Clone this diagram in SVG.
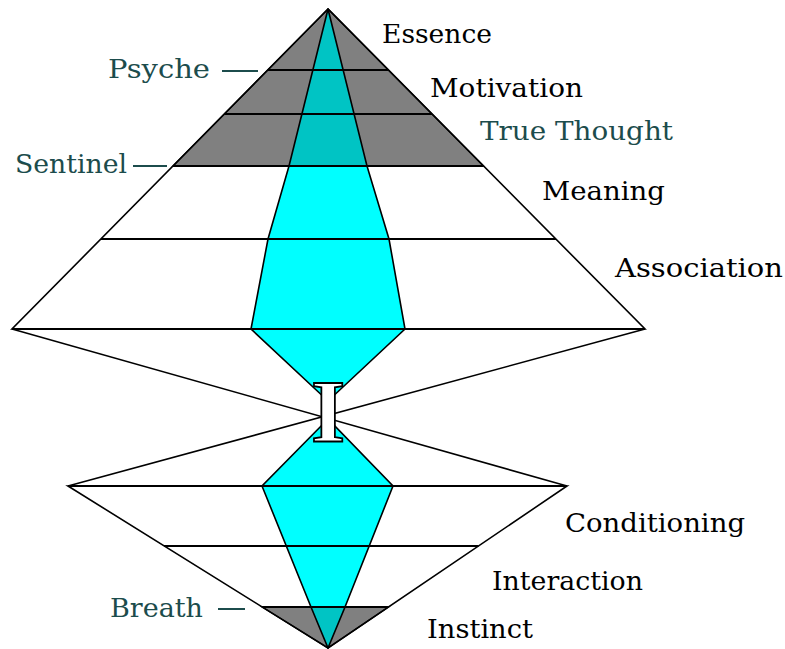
<svg xmlns="http://www.w3.org/2000/svg" width="785" height="649" viewBox="0 0 785 649">
<style>
.ln{stroke:#000;stroke-width:1.6;fill:none}
.hl{stroke:#000;stroke-width:2;fill:none}
.gray{fill:#808080;stroke:#000;stroke-width:1.4}
.dc{fill:#00c4c4;stroke:#000;stroke-width:1.6}
.bc{fill:#00ffff;stroke:#000;stroke-width:1.6}
.lb{font-family:"DejaVu Serif","Liberation Serif",serif;font-size:26px;fill:#000}
.tl{font-family:"DejaVu Serif","Liberation Serif",serif;font-size:26px;fill:#1c4c4c}
.dash{stroke:#1c4c4c;stroke-width:2}
</style>
<rect width="785" height="649" fill="#fff"/>
<g id="upper-pyramid">
<polygon class="gray" points="328,9 173,166 483.5,166"/>
<polygon class="dc" points="328,9 289,166 367,166"/>
<polygon class="bc" points="289,166 268,239 251,329 328,401 405,329 389,239 367,166"/>
<polygon class="ln" points="328,9 12,329 645,329"/>
</g>
<g id="lower-pyramid">
<polygon class="gray" points="262,607 328,648 388.5,607"/>
<polygon class="bc" points="328,419 262,486 311,607 345,607 393,486"/>
<polygon class="dc" points="311,607 328,648 345,607"/>
<polygon class="ln" points="68,486 328,648 567,486"/>
</g>
<g id="connectors">
<line class="hl" x1="268" y1="70" x2="388" y2="70"/>
<line class="hl" x1="224" y1="114" x2="432" y2="114"/>
<line class="hl" x1="173" y1="166" x2="483.5" y2="166"/>
<line class="hl" x1="101" y1="239" x2="556" y2="239"/>
<line class="hl" x1="12" y1="329" x2="645" y2="329"/>
<line class="hl" x1="68" y1="486" x2="567" y2="486"/>
<line class="hl" x1="164" y1="546" x2="478.5" y2="546"/>
<line class="hl" x1="262" y1="607" x2="388.5" y2="607"/>
<line class="ln" x1="12" y1="329" x2="567" y2="486"/>
<line class="ln" x1="645" y1="329" x2="68" y2="486"/>
<line class="dash" x1="222" y1="71" x2="258" y2="71"/>
<line class="dash" x1="133" y1="166" x2="167" y2="166"/>
<line class="dash" x1="218" y1="609" x2="245" y2="609"/>
</g>
<g id="center-I">
<text x="328" y="441" text-anchor="middle" font-family="'Liberation Serif',serif" font-weight="bold" font-size="88" fill="#fff" stroke="#000" stroke-width="1.8">I</text>
</g>
<g id="labels">
<text class="lb" x="382" y="43" textLength="110" lengthAdjust="spacingAndGlyphs">Essence</text>
<text class="lb" x="430" y="97" textLength="153" lengthAdjust="spacingAndGlyphs">Motivation</text>
<text class="tl" x="480" y="140" textLength="193" lengthAdjust="spacingAndGlyphs">True Thought</text>
<text class="lb" x="542" y="200" textLength="123" lengthAdjust="spacingAndGlyphs">Meaning</text>
<text class="lb" x="615" y="277" textLength="168" lengthAdjust="spacingAndGlyphs">Association</text>
<text class="lb" x="565" y="532" textLength="180" lengthAdjust="spacingAndGlyphs">Conditioning</text>
<text class="lb" x="492" y="590" textLength="151" lengthAdjust="spacingAndGlyphs">Interaction</text>
<text class="lb" x="427" y="638" textLength="106" lengthAdjust="spacingAndGlyphs">Instinct</text>
<text class="tl" x="108" y="78" textLength="102" lengthAdjust="spacingAndGlyphs">Psyche</text>
<text class="tl" x="15" y="173" textLength="112" lengthAdjust="spacingAndGlyphs">Sentinel</text>
<text class="tl" x="110" y="617" textLength="93" lengthAdjust="spacingAndGlyphs">Breath</text>
</g>
</svg>
